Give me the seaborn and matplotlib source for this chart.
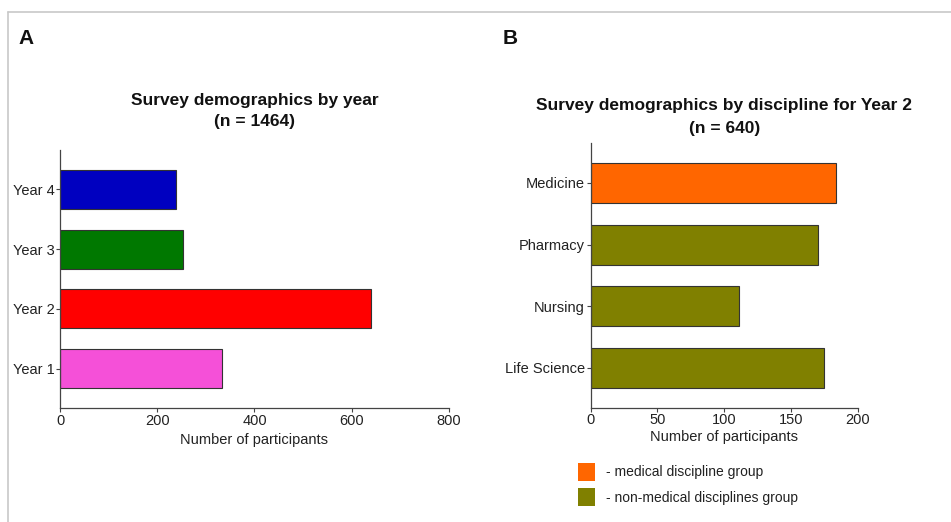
# Survey demographics: two horizontal bar panels
import matplotlib.pyplot as plt
import seaborn as sns
from matplotlib.patches import Patch
from matplotlib.lines import Line2D

# Data
years = ['Year 4', 'Year 3', 'Year 2', 'Year 1']
year_counts = [239, 252, 640, 333]
year_colors = ['#0000C0', '#007800', '#FF0000', '#F550D8']

disciplines = ['Medicine', 'Pharmacy', 'Nursing', 'Life Science']
discipline_counts = [184, 170, 111, 175]
discipline_groups = ['medical', 'non-medical', 'non-medical', 'non-medical']
group_colors = {'medical': '#FF6600', 'non-medical': '#808000'}
group_labels = ['- medical discipline group', '- non-medical disciplines group']

sns.set_style('ticks')
plt.rcParams['font.family'] = ['Liberation Sans', 'DejaVu Sans']
plt.rcParams['axes.edgecolor'] = '#444444'
plt.rcParams['xtick.color'] = '#444444'
plt.rcParams['ytick.color'] = '#444444'
plt.rcParams['xtick.labelcolor'] = '#222222'
plt.rcParams['ytick.labelcolor'] = '#222222'

fig = plt.figure(figsize=(9.51, 5.22), dpi=100)
ax1 = fig.add_axes([0.0631, 0.2184, 0.409, 0.4943])
ax2 = fig.add_axes([0.6211, 0.2190, 0.2808, 0.5071])

# Panel A
sns.barplot(x=year_counts, y=years, hue=years, palette=year_colors, legend=False,
            orient='h', width=0.65, saturation=1, edgecolor='#333333', linewidth=0.8, ax=ax1)
ax1.set_xlim(0, 800)
ax1.set_xticks([0, 200, 400, 600, 800])
ax1.set_ylim(3.66, -0.66)
ax1.set_xlabel('Number of participants', fontsize=10.5, color='#222222')
ax1.set_ylabel('')

# Panel B
bar_colors = [group_colors[g] for g in discipline_groups]
sns.barplot(x=discipline_counts, y=disciplines, hue=disciplines, palette=bar_colors,
            legend=False, orient='h', width=0.65, saturation=1, edgecolor='#333333',
            linewidth=0.8, ax=ax2)
ax2.set_xlim(0, 200)
ax2.set_xticks([0, 50, 100, 150, 200])
ax2.set_ylim(3.65, -0.65)
ax2.set_xlabel('Number of participants', fontsize=10.5, color='#222222', labelpad=2)
ax2.set_ylabel('')

for ax in (ax1, ax2):
    sns.despine(ax=ax)
    ax.tick_params(labelsize=10.5, length=3, width=0.8, pad=1)
    for s in ('left', 'bottom'):
        ax.spines[s].set_linewidth(0.9)

# Titles and panel letters
fig.text(0.2676, 1 - 111 / 522, 'Survey demographics by year\n(n = 1464)', ha='center',
         va='center', fontsize=12.5, fontweight='bold', color='#111111', linespacing=1.55)
fig.text(0.7615, 1 - 117 / 522, 'Survey demographics by discipline for Year 2\n(n = 640)',
         ha='center', va='center', fontsize=12.5, fontweight='bold', color='#111111',
         linespacing=1.6)
fig.text(0.019, 1 - 38 / 522, 'A', fontsize=15, fontweight='bold', va='center', color='#111111')
fig.text(0.528, 1 - 38 / 522, 'B', fontsize=15, fontweight='bold', va='center', color='#111111')

# Legend for discipline groups
handles = [Patch(facecolor=group_colors['medical'], edgecolor='none'),
           Patch(facecolor=group_colors['non-medical'], edgecolor='none')]
fig.legend(handles, group_labels, loc='upper left', bbox_to_anchor=(578 / 951, 1 - 463 / 522),
           frameon=False, fontsize=10, handlelength=1.25, handleheight=1.6, borderpad=0,
           borderaxespad=0, handletextpad=0.75, labelspacing=0.55, labelcolor='#222222')

# Thin grey frame around the figure area
fig.add_artist(Line2D([8 / 951, 8 / 951], [0, 1 - 12 / 522], color='#c8c8c8', lw=1.2))
fig.add_artist(Line2D([8 / 951, 1], [1 - 12 / 522, 1 - 12 / 522], color='#c8c8c8', lw=1.2))

fig.savefig('out.png', dpi=100)
